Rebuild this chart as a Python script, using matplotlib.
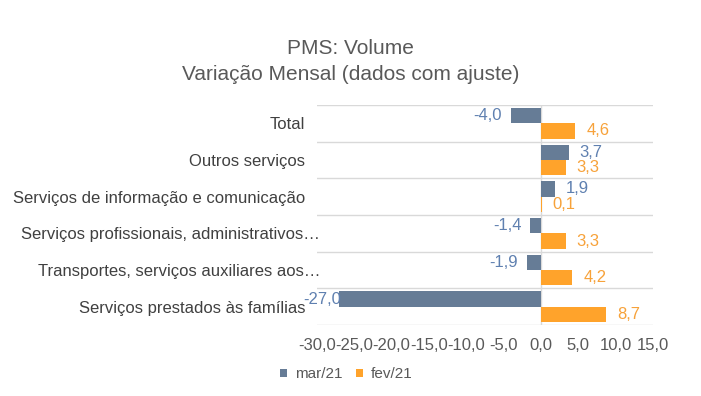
import matplotlib
matplotlib.use("Agg")
import matplotlib.pyplot as plt
import matplotlib.transforms as mtransforms
import numpy as np
from matplotlib.ticker import FuncFormatter, MultipleLocator

plt.rcParams['font.family'] = ['Liberation Sans', 'DejaVu Sans']

categories = ["Total", "Outros serviços", "Serviços de informação e comunicação",
              "Serviços profissionais, administrativos…", "Transportes, serviços auxiliares aos…",
              "Serviços prestados às famílias"]
mar21 = [-4.0, 3.7, 1.9, -1.4, -1.9, -27.0]
fev21 = [4.6, 3.3, 0.1, 3.3, 4.2, 8.7]
series_names = ["mar/21", "fev/21"]

c_mar = "#667C96"
c_fev = "#FFA32B"
lab_mar = "#5F80B0"
lab_fev = "#F7A23A"
grey = "#595959"

fig = plt.figure(figsize=(7.01, 3.96), dpi=100)
ax = fig.add_axes([0.452, 0.179, 0.4795, 0.556])

y = np.arange(len(categories))
h = 0.42
b1 = ax.barh(y - h/2, mar21, height=h, color=c_mar, label=series_names[0], zorder=3)
b2 = ax.barh(y + h/2, fev21, height=h, color=c_fev, label=series_names[1], zorder=3)

xmin, xmax = -30, 15
ax.set_xlim(xmin, xmax)
ax.set_ylim(len(categories) - 0.5, -0.5)

def fmt(v):
    return f"{v:.1f}".replace(".", ",")

for vals, off, col in ((mar21, -h/2, lab_mar), (fev21, h/2, lab_fev)):
    for i, v in enumerate(vals):
        if v >= 0:
            ax.annotate(fmt(v), (v, i + off), xytext=(8, 0), textcoords="offset points",
                        ha="left", va="center", color=col, fontsize=12)
        else:
            if v < xmin + 5:
                ax.annotate(fmt(v), (v, i + off), xytext=(1, 0), textcoords="offset points",
                            ha="right", va="center", color=col, fontsize=12, annotation_clip=False)
            else:
                ax.annotate(fmt(v), (v, i + off), xytext=(-6.5, 0), textcoords="offset points",
                            ha="right", va="center", color=col, fontsize=12)

ax.set_yticks(y)
ax.set_yticklabels(categories, fontsize=12, color="#404040")
ax.set_yticks(np.arange(-0.5, len(categories) + 0.5, 1), minor=True)
ax.tick_params(axis="y", which="both", length=0, pad=8.5)
ax.grid(axis="y", which="minor", color="#D9D9D9", linewidth=1, zorder=0)
ax.grid(axis="y", which="major", visible=False)
ax.grid(axis="x", visible=False)

shift = mtransforms.ScaledTranslation(0.15, 0, fig.dpi_scale_trans)
for lbl in ax.get_yticklabels():
    if lbl.get_text().endswith("…"):
        lbl.set_transform(lbl.get_transform() + shift)

ax.xaxis.set_major_locator(MultipleLocator(5))
ax.xaxis.set_major_formatter(FuncFormatter(lambda v, p: fmt(v)))
ax.tick_params(axis="x", length=0, pad=9, labelsize=12, labelcolor=grey)

for s in ax.spines.values():
    s.set_visible(False)
ax.axvline(0, color="#D9D9D9", linewidth=1, zorder=2)

fig.text(0.5, 0.878, "PMS: Volume", ha="center", va="center", fontsize=15, color=grey)
fig.text(0.5, 0.812, "Variação Mensal (dados com ajuste)", ha="center", va="center", fontsize=15, color=grey)

fig.legend(handles=[b1, b2], loc="center", bbox_to_anchor=(0.494, 0.055), ncol=2, frameon=False,
           fontsize=11, labelcolor=grey, handlelength=0.46, handleheight=0.46, handletextpad=0.5,
           columnspacing=0.9)

fig.savefig("out.png", dpi=100)
